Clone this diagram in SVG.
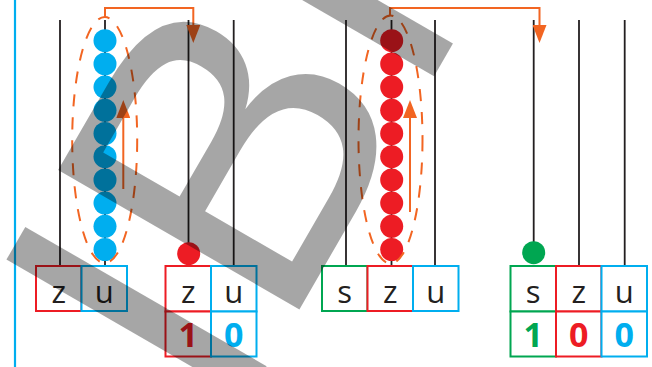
<svg xmlns="http://www.w3.org/2000/svg" width="652" height="367" viewBox="0 0 652 367">
<defs>
<style>
.rod{stroke:#231f20;stroke-width:1.8;fill:none}
.ell{fill:none;stroke:#f26522;stroke-width:2;stroke-dasharray:12 11}
.con{fill:none;stroke:#f26522;stroke-width:2}
.cell{fill:#fff;stroke-width:2}
.r{stroke:#ed1c24}.b{stroke:#00aeef}.g{stroke:#00a651}
.lbl{font-family:"Open Sans","Noto Sans",sans-serif;font-size:31px;fill:#231f20;text-anchor:middle}
.dig{font-family:"Open Sans","Noto Sans",sans-serif;font-size:34px;font-weight:700;text-anchor:middle}
.bb{fill:#00aeef}.rb{fill:#ed1c24}
</style>
<marker id="ah" markerUnits="userSpaceOnUse" viewBox="0 0 18 14" markerWidth="18" markerHeight="14" refX="14" refY="7" orient="auto">
<path d="M0,0 L18,7 L0,14 z" fill="#f26522"/>
</marker>
</defs>
<rect width="652" height="367" fill="#fff"/>
<line x1="15" y1="0" x2="15" y2="367" stroke="#00aeef" stroke-width="2.2"/>

<g id="abacus1">
<line class="rod" x1="60" y1="20" x2="60" y2="266"/>
<line class="rod" x1="105" y1="20" x2="105" y2="266"/>
<g id="beads1" class="bb">
<circle cx="105" cy="40.7" r="11.5"/><circle cx="105" cy="63.9" r="11.5"/><circle cx="105" cy="87.1" r="11.5"/><circle cx="105" cy="110.3" r="11.5"/><circle cx="105" cy="133.5" r="11.5"/><circle cx="105" cy="156.7" r="11.5"/><circle cx="105" cy="179.9" r="11.5"/><circle cx="105" cy="203.1" r="11.5"/><circle cx="105" cy="226.3" r="11.5"/><circle cx="105" cy="249.5" r="11.5"/>
</g>
<ellipse class="ell" cx="104.7" cy="140" rx="32.5" ry="123"/>
<g id="table1">
<rect class="cell r" x="36" y="266" width="45.5" height="45"/>
<rect class="cell b" x="81.5" y="266" width="45.5" height="45"/>
<text class="lbl" x="58.75" y="303">z</text>
<text class="lbl" x="104.25" y="303">u</text>
</g>
</g>

<g id="abacus2">
<line class="rod" x1="188.5" y1="20" x2="188.5" y2="250"/>
<line class="rod" x1="233.7" y1="20" x2="233.7" y2="266"/>
<circle class="rb" cx="188.7" cy="253.7" r="11.5"/>
<g id="table2">
<rect class="cell r" x="165.5" y="266" width="45.5" height="45.5"/>
<rect class="cell r" x="165.5" y="311.5" width="45.5" height="45"/>
<rect class="cell b" x="211" y="266" width="45.5" height="45.5"/>
<rect class="cell b" x="211" y="311.5" width="45.5" height="45"/>
<text class="lbl" x="188.25" y="303">z</text>
<text class="lbl" x="233.75" y="303">u</text>
<text class="dig" x="188.25" y="347" fill="#ed1c24">1</text>
<text class="dig" x="233.75" y="347" fill="#00aeef">0</text>
</g>
</g>

<g id="abacus3">
<line class="rod" x1="346" y1="20" x2="346" y2="266"/>
<line class="rod" x1="391.5" y1="20" x2="391.5" y2="266"/>
<line class="rod" x1="435" y1="20" x2="435" y2="266"/>
<g id="beads3" class="rb">
<circle cx="391.7" cy="40.7" r="11.5"/><circle cx="391.7" cy="63.9" r="11.5"/><circle cx="391.7" cy="87.1" r="11.5"/><circle cx="391.7" cy="110.3" r="11.5"/><circle cx="391.7" cy="133.5" r="11.5"/><circle cx="391.7" cy="156.7" r="11.5"/><circle cx="391.7" cy="179.9" r="11.5"/><circle cx="391.7" cy="203.1" r="11.5"/><circle cx="391.7" cy="226.3" r="11.5"/><circle cx="391.7" cy="249.5" r="11.5"/>
</g>
<ellipse class="ell" cx="390.5" cy="139.5" rx="32" ry="124"/>
<g id="table3">
<rect class="cell g" x="322" y="266" width="45.5" height="45"/>
<rect class="cell r" x="367.5" y="266" width="45.5" height="45"/>
<rect class="cell b" x="413" y="266" width="45.5" height="45"/>
<text class="lbl" x="344.75" y="303">s</text>
<text class="lbl" x="390.25" y="303">z</text>
<text class="lbl" x="435.75" y="303">u</text>
</g>
</g>

<g id="abacus4">
<line class="rod" x1="533.7" y1="20" x2="533.7" y2="250"/>
<line class="rod" x1="579" y1="20" x2="579" y2="266"/>
<line class="rod" x1="624.7" y1="20" x2="624.7" y2="266"/>
<circle cx="533.7" cy="252.7" r="11.5" fill="#00a651"/>
<g id="table4">
<rect class="cell g" x="510.5" y="266" width="45.5" height="45.5"/>
<rect class="cell g" x="510.5" y="311.5" width="45.5" height="45"/>
<rect class="cell r" x="556" y="266" width="45.5" height="45.5"/>
<rect class="cell r" x="556" y="311.5" width="45.5" height="45"/>
<rect class="cell b" x="601.5" y="266" width="45.5" height="45.5"/>
<rect class="cell b" x="601.5" y="311.5" width="45.5" height="45"/>
<text class="lbl" x="533.25" y="303">s</text>
<text class="lbl" x="578.75" y="303">z</text>
<text class="lbl" x="624.25" y="303">u</text>
<text class="dig" x="533.25" y="347" fill="#00a651">1</text>
<text class="dig" x="578.75" y="347" fill="#ed1c24">0</text>
<text class="dig" x="624.25" y="347" fill="#00aeef">0</text>
</g>
</g>

<g id="connectors">
<polyline class="con" points="105,17 105,8 193.3,8 193.3,39" marker-end="url(#ah)"/>
<polyline class="con" points="390,15 390,8 539.5,8 539.5,39" marker-end="url(#ah)"/>
<line class="con" x1="123.3" y1="189" x2="123.3" y2="104" marker-end="url(#ah)"/>
<line class="con" x1="410" y1="212" x2="410" y2="104" marker-end="url(#ah)"/>
</g>

<text id="watermark" transform="rotate(-60)" x="-259" y="414" font-family="'Liberation Sans',Arial,sans-serif" font-size="405" fill="#000" fill-opacity="0.35">I<tspan dx="-5">B</tspan><tspan dx="-5">I</tspan></text>
</svg>
